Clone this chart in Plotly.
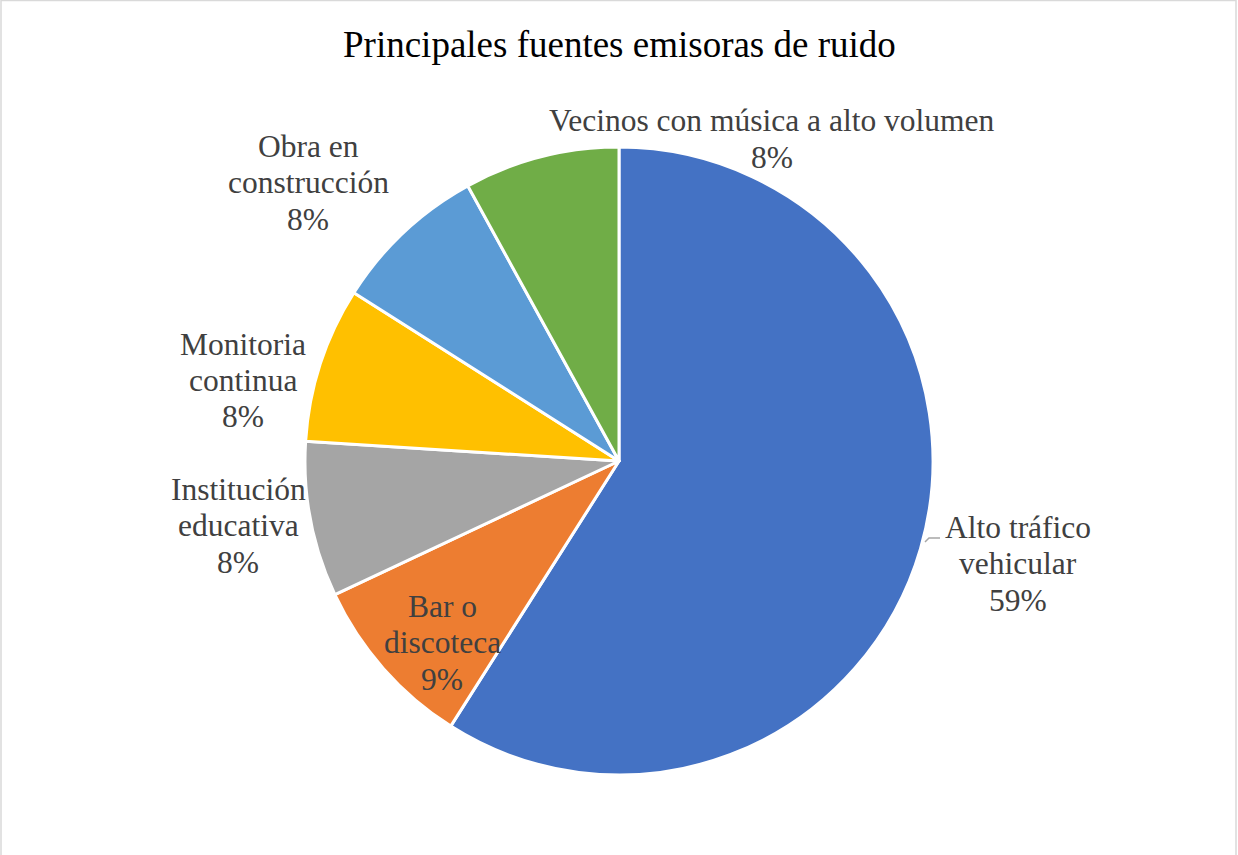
import plotly.graph_objects as go

W, H = 1238, 855

# Data
categories = [
    "Alto tráfico vehicular",
    "Bar o discoteca",
    "Institución educativa",
    "Monitoria continua",
    "Obra en construcción",
    "Vecinos con música a alto volumen",
]
label_lines = [
    ["Alto tráfico", "vehicular"],
    ["Bar o", "discoteca"],
    ["Institución", "educativa"],
    ["Monitoria", "continua"],
    ["Obra en", "construcción"],
    ["Vecinos con música a alto volumen"],
]
percentages = [59, 9, 8, 8, 8, 8]
colors = ["#4472C4", "#ED7D31", "#A5A5A5", "#FFC000", "#5B9BD5", "#70AD47"]

# Layout: pie centre/radius and label anchors in pixels
cx, cy, r = 619, 461, 314
label_centers = [(1018, 527), (442, 606), (238, 489), (243, 344), (308, 146), (772, 121)]
line_step = 36.5
font_family = "Liberation Serif, Times New Roman, serif"


def px(x):
    return x / W


def py(y):
    return 1 - y / H


fig = go.Figure(
    go.Pie(
        labels=categories,
        values=percentages,
        sort=False,
        direction="clockwise",
        rotation=0,
        textinfo="none",
        hoverinfo="label+percent",
        marker=dict(colors=colors, line=dict(color="white", width=3)),
        domain=dict(x=[px(cx - r), px(cx + r)], y=[py(cy + r), py(cy - r)]),
        showlegend=False,
    )
)

annotations = []
for lines, pct, (lx, ly) in zip(label_lines, percentages, label_centers):
    for i, txt in enumerate(lines + [f"{pct}%"]):
        annotations.append(
            dict(
                x=px(lx), y=py(ly + i * line_step), xref="paper", yref="paper",
                text=txt, showarrow=False, xanchor="center", yanchor="middle",
                font=dict(family=font_family, size=31.5, color="#404040"),
            )
        )

annotations.append(
    dict(
        x=px(619), y=py(45), xref="paper", yref="paper",
        text="Principales fuentes emisoras de ruido", showarrow=False,
        xanchor="center", yanchor="middle",
        font=dict(family=font_family, size=37, color="#000000"),
    )
)

shapes = [
    # chart area border
    dict(type="rect", xref="paper", yref="paper",
         x0=px(1), x1=px(1236), y0=-0.02, y1=py(0.5),
         line=dict(color="#D9D9D9", width=1.5)),
    # leader line for the large slice label
    dict(type="path", xref="paper", yref="paper",
         path=f"M {px(925)},{py(542)} L {px(929)},{py(538)} L {px(940)},{py(538)}",
         line=dict(color="#A6A6A6", width=1.5)),
]

fig.update_layout(
    width=W, height=H,
    margin=dict(l=0, r=0, t=0, b=0),
    paper_bgcolor="white", plot_bgcolor="white",
    annotations=annotations, shapes=shapes,
)

fig.write_html("out.html")
